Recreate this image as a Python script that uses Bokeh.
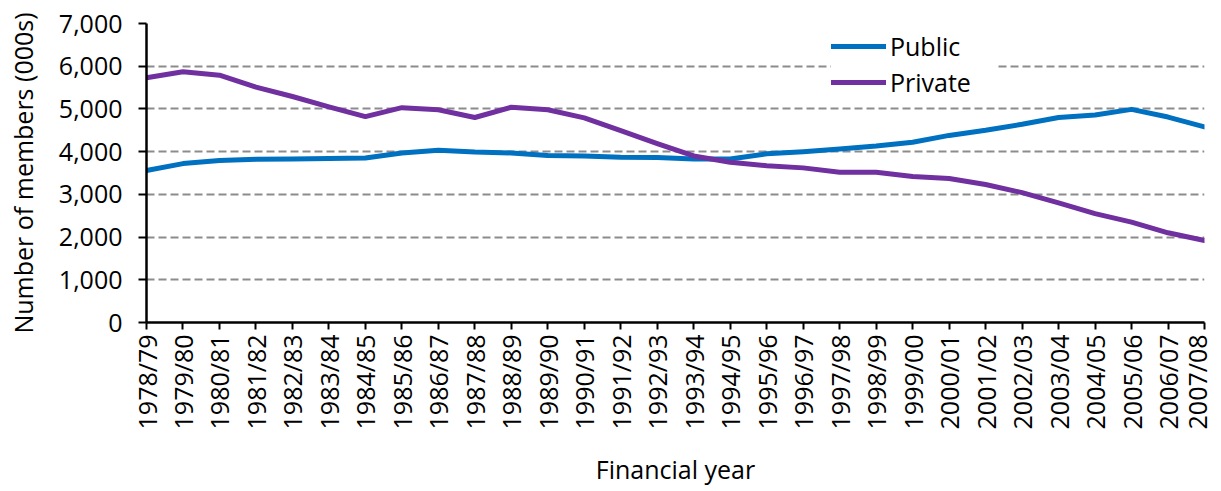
import math
from bokeh.plotting import figure
from bokeh.models import (Range1d, FixedTicker, NumeralTickFormatter, Legend, LegendItem,
                          SingleIntervalTicker)
from bokeh.embed import file_html
from bokeh.resources import INLINE

years = ["1978/79", "1979/80", "1980/81", "1981/82", "1982/83", "1983/84", "1984/85",
         "1985/86", "1986/87", "1987/88", "1988/89", "1989/90", "1990/91", "1991/92",
         "1992/93", "1993/94", "1994/95", "1995/96", "1996/97", "1997/98", "1998/99",
         "1999/00", "2000/01", "2001/02", "2002/03", "2003/04", "2004/05", "2005/06",
         "2006/07", "2007/08"]
public = [3560, 3720, 3790, 3820, 3830, 3840, 3850, 3970, 4030, 3990, 3970, 3910, 3900,
          3870, 3860, 3830, 3830, 3950, 4000, 4060, 4130, 4220, 4380, 4500, 4640, 4800,
          4860, 4990, 4810, 4580]
private = [5730, 5870, 5790, 5510, 5290, 5050, 4820, 5030, 4980, 4800, 5040, 4980, 4790,
           4490, 4190, 3900, 3750, 3670, 3620, 3520, 3520, 3420, 3370, 3230, 3040, 2800,
           2550, 2350, 2100, 1920]
series_names = ["Public", "Private"]
colors = ["#0070C0", "#7030A0"]

FONT = "Open Sans"
FS = "25px"

x = list(range(len(years)))

p = figure(width=1213, height=489, output_backend="svg", toolbar_location=None,
           x_range=Range1d(0, len(years) - 1), y_range=Range1d(0, 7000),
           min_border_left=146, min_border_right=9, min_border_top=23,
           min_border_bottom=165)
p.outline_line_color = None
p.background_fill_color = "white"

r1 = p.line(x, public, line_color=colors[0], line_width=5, line_cap="round", line_join="round")
r2 = p.line(x, private, line_color=colors[1], line_width=5, line_cap="round", line_join="round")

# x axis
p.xaxis.ticker = FixedTicker(ticks=x)
p.xaxis.major_label_overrides = {i: y for i, y in enumerate(years)}
p.xaxis.major_label_orientation = math.pi / 2
p.xaxis.axis_label = "Financial year"
p.xaxis.major_label_standoff = 5
p.xaxis.axis_label_standoff = 20
p.xaxis.major_tick_out = 7
p.xaxis.major_tick_in = 0
p.xaxis.minor_tick_line_color = None

# y axis
p.yaxis.ticker = SingleIntervalTicker(interval=1000)
p.yaxis.formatter = NumeralTickFormatter(format="0,0")
p.yaxis.axis_label = "Number of members (000s)"
p.yaxis.major_label_standoff = 16
p.yaxis.axis_label_standoff = 16
p.yaxis.major_tick_out = 8
p.yaxis.major_tick_in = 0
p.yaxis.minor_tick_line_color = None

for ax in [p.xaxis[0], p.yaxis[0]]:
    ax.axis_line_color = "black"
    ax.axis_line_width = 2.5
    ax.major_tick_line_color = "black"
    ax.major_tick_line_width = 2
    ax.major_label_text_font = FONT
    ax.major_label_text_font_size = FS
    ax.major_label_text_color = "black"
    ax.axis_label_text_font = FONT
    ax.axis_label_text_font_size = FS
    ax.axis_label_text_font_style = "normal"
    ax.axis_label_text_color = "black"

p.xgrid.grid_line_color = None
p.ygrid.grid_line_color = "#8c8c8c"
p.ygrid.grid_line_width = 2
p.ygrid.grid_line_dash = "8 4"

legend = Legend(items=[LegendItem(label=series_names[0], renderers=[r1]),
                       LegendItem(label=series_names[1], renderers=[r2])],
                location=(685, 223), orientation="vertical")
legend.glyph_width = 55
legend.glyph_height = 20
legend.label_standoff = 4
legend.label_width = 105
legend.label_text_font = FONT
legend.label_text_font_size = FS
legend.label_text_color = "black"
legend.padding = 8
legend.spacing = 2
legend.margin = 0
legend.border_line_color = None
legend.background_fill_color = "white"
legend.background_fill_alpha = 1
p.add_layout(legend, "center")

open("out.html", "w").write(file_html(p, INLINE))
